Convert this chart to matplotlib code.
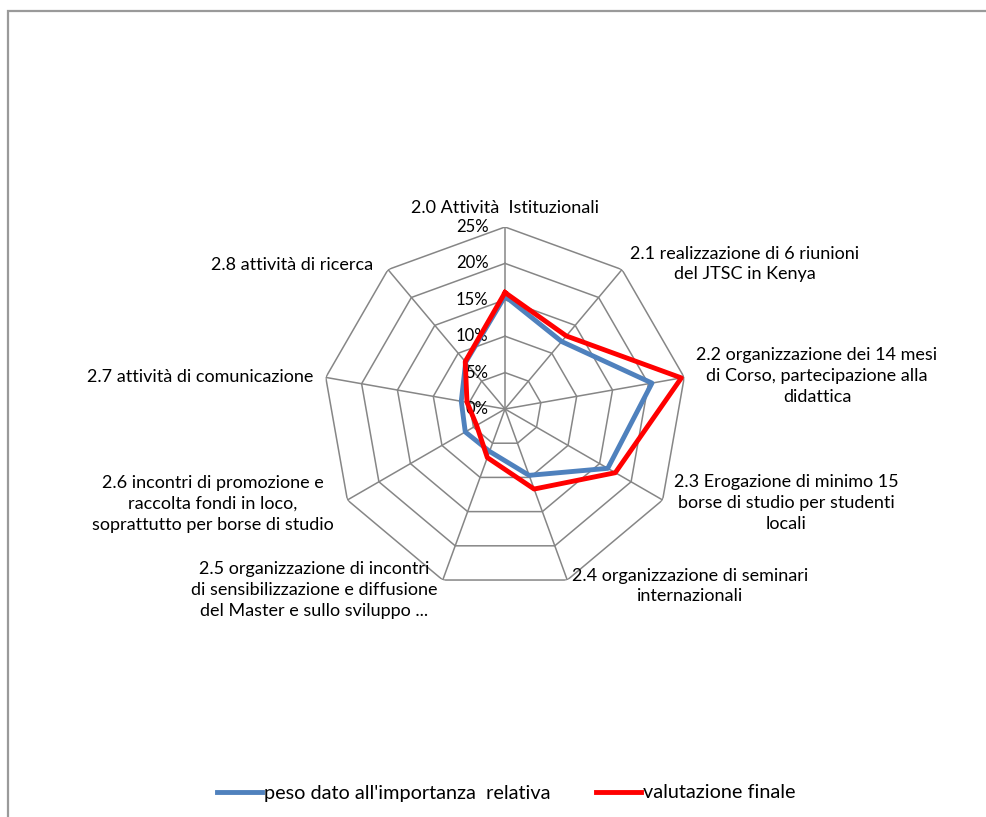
import numpy as np
import matplotlib
matplotlib.use("Agg")
import matplotlib.pyplot as plt
from matplotlib.patches import Rectangle
from matplotlib.lines import Line2D

# Dati del grafico radar
categorie = [
    "2.0 Attività  Istituzionali",
    "2.1 realizzazione di 6 riunioni\ndel JTSC in Kenya",
    "2.2 organizzazione dei 14 mesi\ndi Corso, partecipazione alla\ndidattica",
    "2.3 Erogazione di minimo 15\nborse di studio per studenti\nlocali",
    "2.4 organizzazione di seminari\ninternazionali",
    "2.5 organizzazione di incontri\ndi sensibilizzazione e diffusione\ndel Master e sullo sviluppo ...",
    "2.6 incontri di promozione e\nraccolta fondi in loco,\nsoprattutto per borse di studio",
    "2.7 attività di comunicazione",
    "2.8 attività di ricerca",
]
peso = [15.5, 12.1, 20.5, 16.3, 9.7, 6.2, 6.3, 6.1, 8.4]
valutazione = [16.0, 13.1, 24.6, 17.5, 11.7, 7.1, 4.5, 5.3, 8.5]
livelli = [0, 5, 10, 15, 20, 25]
etichette_livelli = ["0%", "5%", "10%", "15%", "20%", "25%"]
nomi_serie = ["peso dato all'importanza  relativa", "valutazione finale"]

W, H = 987, 817
plt.rcParams['font.family'] = ['Lato', 'DejaVu Sans']

fig = plt.figure(figsize=(W / 100, H / 100), dpi=100)

# cornice esterna
fig.add_artist(Rectangle((8 / W, -0.1), 1.2, (H - 11) / H + 0.1, transform=fig.transFigure,
                         fill=False, edgecolor='#9a9a9a', linewidth=1.6))

cx, cy, rad = 505, 409, 182
ax = fig.add_axes([(cx - rad) / W, (H - cy - rad) / H, 2 * rad / W, 2 * rad / H],
                  projection='polar')
ax.set_theta_offset(np.pi / 2)
ax.set_theta_direction(-1)
ax.set_ylim(0, 25)
ax.grid(False)
ax.set_xticks([])
ax.set_yticks([])
ax.spines['polar'].set_visible(False)
ax.patch.set_alpha(0)

n = len(categorie)
theta = np.arange(n) * 2 * np.pi / n
theta_c = np.append(theta, theta[0])

# griglia poligonale
for lv in livelli[1:]:
    ax.plot(theta_c, [lv] * (n + 1), color='#868686', lw=1.1, zorder=1)
for t in theta:
    ax.plot([t, t], [0, livelli[-1]], color='#868686', lw=1.1, zorder=1)

for lv, lab in zip(livelli, etichette_livelli):
    ax.annotate(lab, xy=(0, lv), xytext=(-12, 0), textcoords='offset points',
                ha='right', va='center', fontsize=12, color='black')

ax.plot(theta_c, peso + peso[:1], color='#4F81BD', lw=3.5, zorder=3)
ax.plot(theta_c, valutazione + valutazione[:1], color='#FF0000', lw=3.5, zorder=4)

# posizioni delle etichette delle categorie (pixel)
pos_etichette = [(505, 208), (745, 264), (817, 376), (786, 503), (690, 586),
                 (314, 590), (213, 504), (200, 377), (292, 265)]
for lab, (px, py) in zip(categorie, pos_etichette):
    fig.text(px / W, 1 - py / H, lab, ha='center', va='center', fontsize=13,
             linespacing=1.36)

handles = [Line2D([], [], color='#4F81BD', lw=3.5),
           Line2D([], [], color='#FF0000', lw=3.5)]
fig.legend(handles, nomi_serie, loc='center', bbox_to_anchor=(506 / W, 1 - 793 / H),
           ncol=2, frameon=False, fontsize=14.3, handlelength=2.27, handletextpad=0.1,
           columnspacing=2.3)

fig.savefig("out.png", dpi=100)
